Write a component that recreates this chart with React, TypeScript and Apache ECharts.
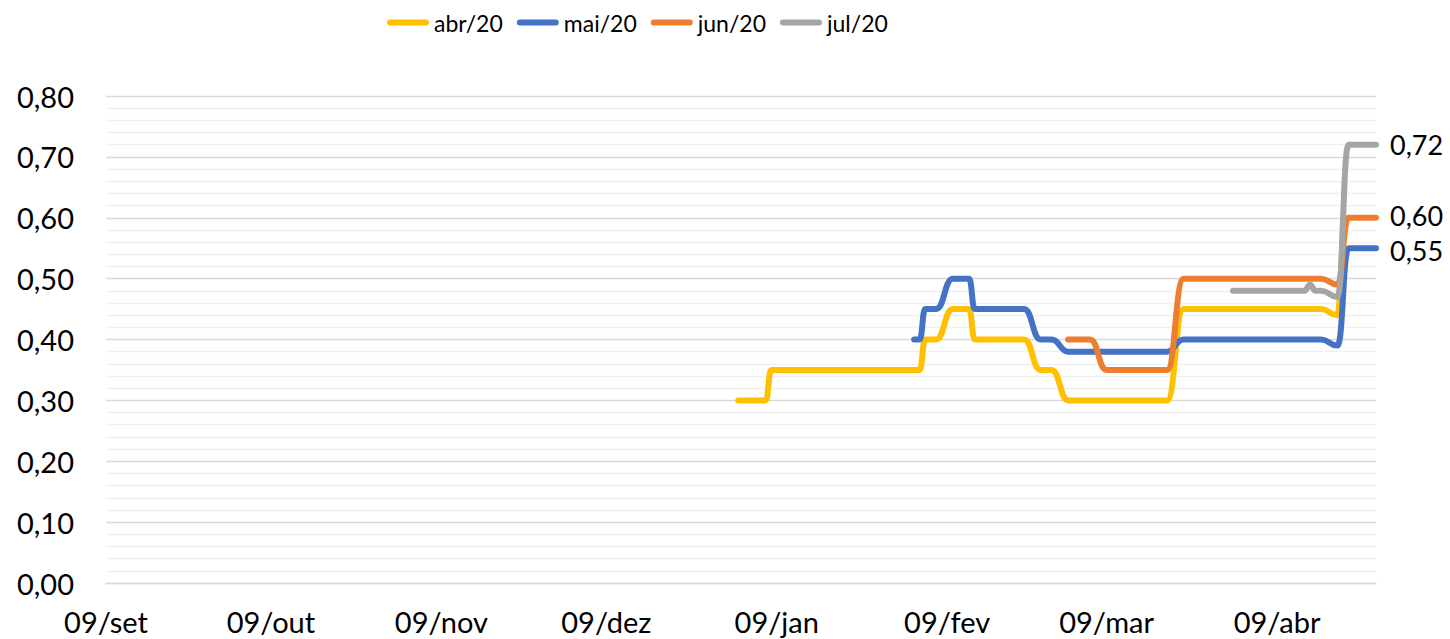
import { useEffect, useRef } from "react";
import * as echarts from "echarts";

// Axis domain and tick labels
const axisStart = "2019-09-09";
const axisEnd = "2020-04-27";
const monthAbbr = ["jan", "fev", "mar", "abr", "mai", "jun", "jul", "ago", "set", "out", "nov", "dez"];
const labelDay = "09";

// Series names and colours
const seriesNames = ["abr/20", "mai/20", "jun/20", "jul/20"];
const seriesColors = ["#FFC000", "#4472C4", "#ED7D31", "#A5A5A5"];
const endLabelShown = [false, true, true, true];
const endLabelOffsets = [[0, 0], [0, 2], [0, -2], [0, 0]];

// Values (date, value)
const abr20: [string, number][] = [
  ["2020-01-02", 0.3], ["2020-01-07", 0.3], ["2020-01-08", 0.35], ["2020-02-04", 0.35],
  ["2020-02-05", 0.4], ["2020-02-07", 0.4], ["2020-02-10", 0.45], ["2020-02-13", 0.45],
  ["2020-02-14", 0.4], ["2020-02-23", 0.4], ["2020-02-26", 0.35], ["2020-02-28", 0.35],
  ["2020-03-02", 0.3], ["2020-03-20", 0.3], ["2020-03-23", 0.45], ["2020-04-17", 0.45],
  ["2020-04-20", 0.44], ["2020-04-21", 0.6],
];
const mai20: [string, number][] = [
  ["2020-02-03", 0.4], ["2020-02-04", 0.4], ["2020-02-05", 0.45], ["2020-02-07", 0.45],
  ["2020-02-10", 0.5], ["2020-02-13", 0.5], ["2020-02-14", 0.45], ["2020-02-23", 0.45],
  ["2020-02-26", 0.4], ["2020-02-28", 0.4], ["2020-03-02", 0.38], ["2020-03-20", 0.38],
  ["2020-03-23", 0.4], ["2020-04-17", 0.4], ["2020-04-20", 0.39], ["2020-04-22", 0.55],
  ["2020-04-27", 0.55],
];
const jun20: [string, number][] = [
  ["2020-03-02", 0.4], ["2020-03-06", 0.4], ["2020-03-09", 0.35], ["2020-03-20", 0.35],
  ["2020-03-23", 0.5], ["2020-04-17", 0.5], ["2020-04-20", 0.49], ["2020-04-22", 0.6],
  ["2020-04-27", 0.6],
];
const jul20: [string, number][] = [
  ["2020-04-01", 0.48], ["2020-04-14", 0.48], ["2020-04-15", 0.49], ["2020-04-16", 0.48],
  ["2020-04-17", 0.48], ["2020-04-20", 0.47], ["2020-04-22", 0.72], ["2020-04-27", 0.72],
];
const seriesData = [abr20, mai20, jun20, jul20];

const FONT = "Lato, 'Noto Sans', sans-serif";

function dayCategories(): string[] {
  const out: string[] = [];
  const end = Date.parse(axisEnd + "T00:00:00Z");
  for (let t = Date.parse(axisStart + "T00:00:00Z"); t <= end; t += 86400000) {
    out.push(new Date(t).toISOString().slice(0, 10));
  }
  return out;
}

const fmt = (v: number) => v.toFixed(2).replace(".", ",");

export default function App() {
  const ref = useRef<HTMLDivElement>(null);
  useEffect(() => {
    document.body.style.margin = "0";
    if (!ref.current) return;
    const chart = echarts.init(ref.current, undefined, { renderer: "svg" });
    const days = dayCategories();
    chart.setOption({
      animation: false,
      backgroundColor: "#ffffff",
      textStyle: { fontFamily: FONT },
      legend: {
        left: 382,
        top: 6,
        itemWidth: 42,
        itemHeight: 6,
        itemGap: 14,
        icon: "path://M3,0 H39 A3,3 0 0 1 39,6 H3 A3,3 0 0 1 3,0 Z",
        textStyle: { fontSize: 23, color: "#000", fontFamily: FONT },
        data: seriesNames,
      },
      grid: { left: 106, right: 74, top: 96, bottom: 56, containLabel: false },
      xAxis: {
        type: "category",
        data: days,
        boundaryGap: false,
        axisLine: { show: true, lineStyle: { color: "#D9D9D9", width: 1.3 } },
        axisTick: { show: false },
        splitLine: { show: false },
        axisLabel: {
          interval: (_i: number, v: string) => v.slice(8) === labelDay,
          formatter: (v: string) => v.slice(8) + "/" + monthAbbr[parseInt(v.slice(5, 7), 10) - 1],
          fontSize: 29,
          lineHeight: 29,
          color: "#000",
          fontFamily: FONT,
          margin: 24,
        },
      },
      yAxis: {
        type: "value",
        min: 0,
        max: 0.8,
        interval: 0.1,
        axisLine: { show: false },
        axisTick: { show: false },
        axisLabel: {
          formatter: (v: number) => fmt(v),
          fontSize: 29,
          color: "#000",
          fontFamily: FONT,
          margin: 32,
        },
        splitLine: { show: true, lineStyle: { color: "#D9D9D9", width: 1.3 } },
        minorTick: { show: false, splitNumber: 5 },
        minorSplitLine: { show: true, lineStyle: { color: "#F0F0F0", width: 1.3 } },
      },
      series: seriesNames.map((name, i) => ({
        name,
        type: "line",
        data: seriesData[i],
        color: seriesColors[i],
        showSymbol: false,
        symbol: "none",
        smooth: 0.5,
        smoothMonotone: "x",
        lineStyle: { width: 6, color: seriesColors[i], cap: "round", join: "round" },
        endLabel: {
          show: endLabelShown[i],
          formatter: (p: any) => fmt(Array.isArray(p.value) ? Number(p.value[1]) : Number(p.value)),
          distance: 14,
          offset: endLabelOffsets[i],
          fontSize: 27,
          lineHeight: 24,
          color: "#000",
          fontFamily: FONT,
        },
        emphasis: { disabled: true },
      })),
    });
    return () => chart.dispose();
  }, []);
  return <div ref={ref} style={{ width: 1450, height: 639 }} />;
}
